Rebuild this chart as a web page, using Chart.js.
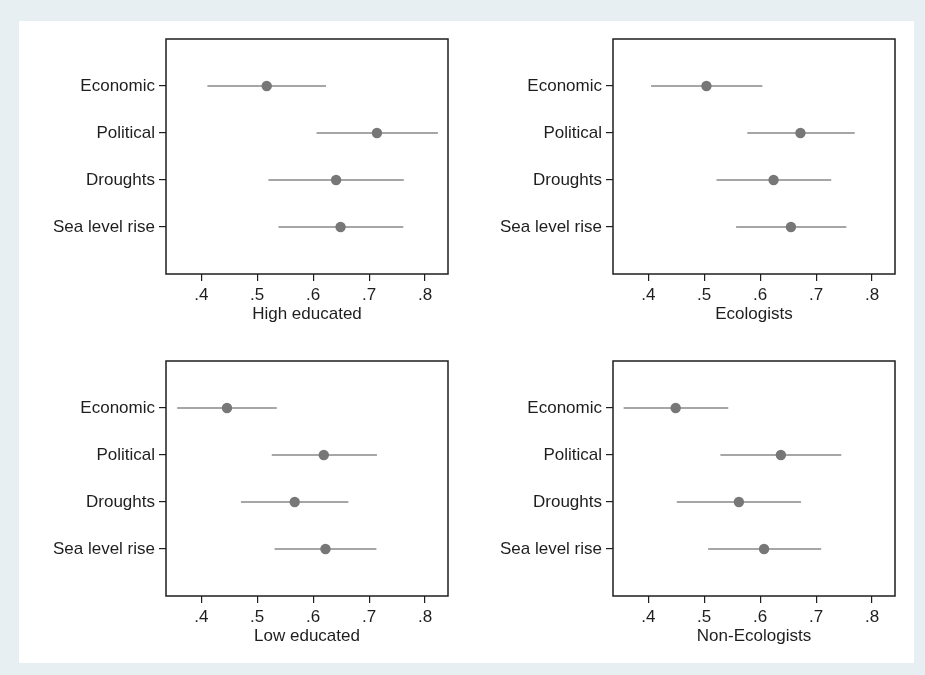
<!DOCTYPE html>
<html>
<head>
<meta charset="utf-8">
<script src="https://cdn.jsdelivr.net/npm/chart.js@4/dist/chart.umd.min.js"></script>
<style>
  html, body { margin: 0; padding: 0; }
  body { width: 925px; height: 675px; background: #e8eff2; position: relative; overflow: hidden; }
  #sheet { position: absolute; left: 19px; top: 21px; width: 895px; height: 642px; background: #ffffff; }
  canvas { position: absolute; }
</style>
</head>
<body>
<div id="sheet"></div>
<canvas id="panel-high" width="440" height="320" style="left:19px;top:21px"></canvas>
<canvas id="panel-eco" width="440" height="320" style="left:466px;top:21px"></canvas>
<canvas id="panel-low" width="440" height="320" style="left:19px;top:343px"></canvas>
<canvas id="panel-noneco" width="440" height="320" style="left:466px;top:343px"></canvas>
<script>
// Categories (top to bottom) and x axis ticks
const categories = ['Economic', 'Political', 'Droughts', 'Sea level rise'];
const xTicks = [0.4, 0.5, 0.6, 0.7, 0.8];
const xTickLabels = ['.4', '.5', '.6', '.7', '.8'];
const xRange = [0.337, 0.841];

// High educated: estimate and confidence interval
const highEduPoint = [0.517, 0.714, 0.641, 0.649];
const highEduLow = [0.411, 0.606, 0.520, 0.538];
const highEduHigh = [0.623, 0.823, 0.762, 0.761];

// Ecologists
const ecoPoint = [0.504, 0.672, 0.624, 0.655];
const ecoLow = [0.405, 0.577, 0.522, 0.557];
const ecoHigh = [0.604, 0.769, 0.727, 0.754];

// Low educated
const lowEduPoint = [0.446, 0.619, 0.567, 0.622];
const lowEduLow = [0.357, 0.526, 0.471, 0.531];
const lowEduHigh = [0.535, 0.714, 0.663, 0.713];

// Non-Ecologists
const nonEcoPoint = [0.449, 0.637, 0.562, 0.607];
const nonEcoLow = [0.356, 0.529, 0.451, 0.507];
const nonEcoHigh = [0.543, 0.745, 0.673, 0.709];

const FONT = 'Liberation Sans, Arial, sans-serif';
const INK = '#1e1e1e';

// Draws the black box around the plot region
const framePlugin = {
  id: 'frame',
  afterDraw(chart) {
    const { ctx, chartArea } = chart;
    ctx.save();
    ctx.strokeStyle = INK;
    ctx.lineWidth = 1.5;
    ctx.strokeRect(chartArea.left, chartArea.top, chartArea.right - chartArea.left, chartArea.bottom - chartArea.top);
    ctx.restore();
  },
};

function buildDatasets(points, lows, highs) {
  const datasets = [];
  // markers on top
  datasets.push({
    data: points.map((v, i) => ({ x: v, y: i + 1 })),
    pointRadius: 5.2,
    pointBackgroundColor: '#777777',
    pointBorderWidth: 0,
    showLine: false,
    order: 0,
  });
  // one horizontal segment per interval
  categories.forEach((cat, i) => {
    datasets.push({
      data: [{ x: lows[i], y: i + 1 }, { x: highs[i], y: i + 1 }],
      showLine: true,
      borderColor: '#a6a6a6',
      borderWidth: 1.8,
      pointRadius: 0,
      order: 1,
    });
  });
  return datasets;
}

function renderPanel(canvasId, title, points, lows, highs) {
  return new Chart(document.getElementById(canvasId), {
    type: 'scatter',
    data: { datasets: buildDatasets(points, lows, highs) },
    options: {
      responsive: false,
      animation: false,
      events: [],
      layout: { padding: { top: 18, right: 11, left: 0, bottom: 16 } },
      plugins: { legend: { display: false }, tooltip: { enabled: false } },
      scales: {
        x: {
          type: 'linear',
          min: xRange[0],
          max: xRange[1],
          afterBuildTicks: (axis) => { axis.ticks = xTicks.map((v) => ({ value: v })); },
          afterFit: (axis) => { axis.height = 51; },
          grid: { drawOnChartArea: false, drawTicks: true, tickLength: 7, color: INK, lineWidth: 1.2 },
          border: { display: false },
          ticks: {
            color: INK,
            padding: 4,
            maxRotation: 0,
            font: { family: FONT, size: 17 },
            callback: (value) => xTickLabels[xTicks.indexOf(value)],
          },
          title: {
            display: true,
            text: title,
            color: INK,
            font: { family: FONT, size: 17 },
            padding: { top: 0, bottom: 0 },
          },
        },
        y: {
          type: 'linear',
          min: 0,
          max: 5,
          reverse: true,
          afterBuildTicks: (axis) => { axis.ticks = categories.map((c, i) => ({ value: i + 1 })); },
          afterFit: (axis) => { axis.width = 147; },
          grid: { drawOnChartArea: false, drawTicks: true, tickLength: 7, color: INK, lineWidth: 1.2 },
          border: { display: false },
          ticks: {
            color: INK,
            padding: 4,
            font: { family: FONT, size: 17 },
            callback: (value) => categories[value - 1],
          },
        },
      },
    },
    plugins: [framePlugin],
  });
}

renderPanel('panel-high', 'High educated', highEduPoint, highEduLow, highEduHigh);
renderPanel('panel-eco', 'Ecologists', ecoPoint, ecoLow, ecoHigh);
renderPanel('panel-low', 'Low educated', lowEduPoint, lowEduLow, lowEduHigh);
renderPanel('panel-noneco', 'Non-Ecologists', nonEcoPoint, nonEcoLow, nonEcoHigh);
</script>
</body>
</html>
